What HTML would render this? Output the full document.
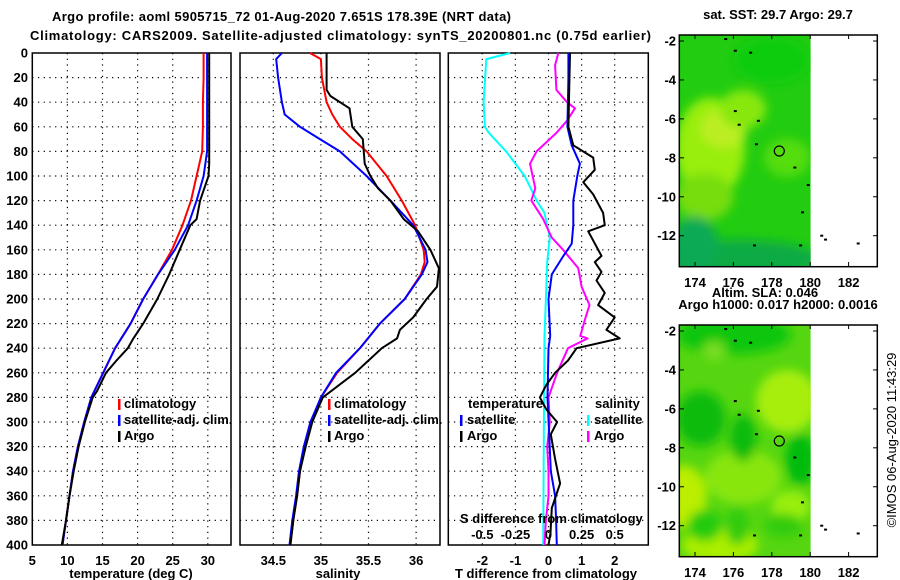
<!DOCTYPE html>
<html><head><meta charset="utf-8">
<style>
html,body{margin:0;padding:0;background:#fff;}
svg{display:block;font-family:"Liberation Sans",Arial,sans-serif;}
.b{font-weight:bold;font-size:13px;}
</style></head>
<body>
<svg id="chart" width="900" height="580" viewBox="0 0 900 580">
<text class="b" x="52" y="21" textLength="459">Argo profile: aoml 5905715_72 01-Aug-2020 7.651S 178.39E (NRT data)</text>
<text class="b" x="30" y="40" textLength="621">Climatology: CARS2009. Satellite-adjusted climatology: synTS_20200801.nc (0.75d earlier)</text>
<g id="panels"></g>
<g id="maps"></g>
<text x="896" y="440" font-size="13" text-anchor="middle" transform="rotate(-90 896 440)">©IMOS 06-Aug-2020 11:43:29</text>
</svg>
<script>
// ---- data (depth in dbar) ----
const tDepth = [0,20,40,60,80,100,120,140,160,180,200,220,240,260,280,300,320,340,360,380,400];
const tClim  = [29.4,29.4,29.3,29.3,29.2,28.4,27.6,26.4,24.9,22.9,20.8,19.0,16.8,15.1,13.4,12.4,11.5,10.8,10.3,9.8,9.3];
const tSat   = [29.9,29.9,29.9,29.9,29.9,29.4,28.4,27.2,25.3,22.9,20.8,19.0,16.8,15.1,13.4,12.4,11.5,10.8,10.3,9.8,9.3];
const argoTDepth = [0,30,60,90,100,110,120,135,140,160,180,200,220,232,240,250,260,275,280,300,320,340,360,380,400];
const argoT  = [30.2,30.2,30.2,30.2,30.1,29.5,28.9,28.4,27.5,26.0,24.5,22.8,20.8,19.4,18.6,17.0,15.5,14.2,13.6,12.5,11.6,10.9,10.3,9.8,9.2];

const sDepth = [0,5,20,40,50,60,70,80,100,120,140,160,170,180,200,220,240,260,280,300,320,340,360,380,400];
const sClim  = [34.885,35.0,35.01,35.06,35.12,35.2,35.33,35.48,35.69,35.85,35.99,36.08,36.09,36.05,35.88,35.62,35.41,35.17,35.0,34.9,34.83,34.78,34.75,34.71,34.68];
const sSat   = [34.59,34.53,34.55,34.59,34.62,34.78,34.99,35.2,35.48,35.73,35.97,36.1,36.12,36.06,35.88,35.62,35.41,35.16,35.0,34.89,34.82,34.77,34.74,34.70,34.67];
const argoSDepth = [0,30,35,45,60,70,90,100,110,120,135,145,160,175,190,200,215,225,232,240,250,260,280,300,320,340,360,380,400];
const argoS  = [35.06,35.06,35.1,35.3,35.33,35.44,35.46,35.52,35.6,35.73,35.87,36.02,36.15,36.24,36.22,36.11,35.97,35.83,35.8,35.64,35.5,35.36,35.02,34.91,34.84,34.78,34.75,34.71,34.68];

const dTSatDepth = [0,20,60,75,90,100,120,140,155,165,180,200,230,240,280,340,360,380,400];
const dTSat  = [0.6,0.6,0.57,0.7,0.95,0.87,0.75,0.75,0.7,0.45,0.1,0.0,0.05,0.0,-0.03,0.07,0.2,0.23,0.25];
const dTArgoDepth = [0,60,75,85,95,105,115,130,140,145,165,170,178,185,195,205,215,225,232,240,250,260,270,280,290,300,310,330,350,370,390,400];
const dTArgo = [0.65,0.6,0.75,1.35,1.4,1.05,1.35,1.65,1.7,1.2,1.6,1.4,1.6,1.45,1.7,1.5,2.0,1.75,2.15,0.85,0.59,0.2,-0.07,-0.26,-0.06,0.26,0.07,0.2,0.35,0.1,0.06,0.0];
const dSSatDepth = [0,5,40,60,65,80,100,120,130,150,170,200,230,300,400];
const dSSat  = [-0.29,-0.47,-0.49,-0.48,-0.45,-0.32,-0.18,-0.09,-0.03,0.01,-0.01,-0.02,-0.03,-0.035,-0.04];
const dSArgoDepth = [0,10,30,40,45,55,65,80,90,110,120,135,150,160,175,190,205,215,230,232,240,260,280,300,320,340,360,380,400];
const dSArgo = [0.074,0.05,0.06,0.14,0.2,0.14,0.06,-0.09,-0.14,-0.1,-0.13,-0.04,0.024,0.11,0.225,0.25,0.31,0.28,0.24,0.295,0.147,0.065,0.0,0.01,-0.01,0.0,0.0,-0.02,-0.03];

const depthTicks = [0,20,40,60,80,100,120,140,160,180,200,220,240,260,280,300,320,340,360,380,400];
const tTicks = [5,10,15,20,25,30];
const sTicks = [34.5,35,35.5,36];
const dTTicks = [-2,-1,0,1,2];
const dSTicks = [-0.5,-0.25,0,0.25,0.5];
const lonTicks = [174,176,178,180,182];
const latTicks = [-2,-4,-6,-8,-10,-12];
const argoPos = [178.39,-7.651];

// ---- axes ----
const NS="http://www.w3.org/2000/svg";
const yD = d => 53 + d*1.23;
const xT = v => 32.3 + (v-5)*7.02;
const xS = v => 273.3 + (v-34.5)*95.2;
const xDT = v => 548.5 + v*33.1;
const xDS = v => 548.5 + v*132.4;
function mk(tag, attrs, parent){const e=document.createElementNS(NS,tag);for(const k in attrs)e.setAttribute(k,attrs[k]);parent.appendChild(e);return e;}
const P=document.getElementById('panels');

function panel(name,x0,x1,ticksX,fx,labelY){
  const g=mk('g',{},P);
  
  
  depthTicks.forEach(d=>{ if(d>0&&d<400) mk('line',{x1:x0,x2:x1,y1:yD(d),y2:yD(d),stroke:'#000','stroke-dasharray':'1.2,4.5','stroke-width':1.2},g);});
  ticksX.forEach(t=>{ const x=fx(t); if(x>x0+2&&x<x1-2) mk('line',{x1:x,x2:x,y1:yD(0),y2:yD(400),stroke:'#000','stroke-dasharray':'1.2,4.5','stroke-width':1.2},g);});
  mk('rect',{x:x0,y:yD(0),width:x1-x0,height:yD(400)-yD(0),fill:'none',stroke:'#000','stroke-width':1.5},g);
  if(labelY) depthTicks.forEach(d=>{const t=mk('text',{x:28,y:yD(d)+4.5,'text-anchor':'end',class:'b','font-size':12},g);t.textContent=d;
    
    });
  ticksX.forEach(v=>{const t=mk('text',{x:fx(v),y:565,'text-anchor':'middle',class:'b','font-size':12},g);t.textContent=v;
    
    });
  return g;
}
function line(g,depths,vals,fx,col,w,name){
  const p=depths.map((d,i)=>(i?'L':'M')+fx(vals[i]).toFixed(1)+' '+yD(d).toFixed(1)).join('');
  const e=mk('path',{d:p,fill:'none',stroke:col,'stroke-width':w,'stroke-linejoin':'round'},g);
  
  
}
function txt(g,x,y,s,name,anchor){const t=mk('text',{x:x,y:y,class:'b','font-size':12,'text-anchor':anchor||'start'},g);t.textContent=s;
  
  return t;}
function bar(g,x,y,col){mk('rect',{x:x,y:y-10,width:2.5,height:11,fill:col},g);}

const g1=panel('temperature-panel',32.3,231,tTicks,xT,true);
line(g1,tDepth,tClim,xT,'#f00',2,'temperature-climatology-line');
line(g1,tDepth,tSat,xT,'#00f',2,'temperature-satellite-line');
line(g1,argoTDepth,argoT,xT,'#000',2,'temperature-argo-line');
bar(g1,118,409,'#f00');txt(g1,124,408,'climatology','legend-climatology');
bar(g1,118,425,'#00f');txt(g1,124,424,'satellite-adj. clim.','legend-satellite');
bar(g1,118,441,'#000');txt(g1,124,440,'Argo','legend-argo');
txt(g1,131,578,'temperature (deg C)','x-axis-title-temperature','middle');

const g2=panel('salinity-panel',240,440,sTicks,xS,false);
line(g2,sDepth,sClim,xS,'#f00',2,'salinity-climatology-line');
line(g2,sDepth,sSat,xS,'#00f',2,'salinity-satellite-line');
line(g2,argoSDepth,argoS,xS,'#000',2,'salinity-argo-line');
bar(g2,328,409,'#f00');txt(g2,334,408,'climatology','legend-climatology');
bar(g2,328,425,'#00f');txt(g2,334,424,'satellite-adj. clim.','legend-satellite');
bar(g2,328,441,'#000');txt(g2,334,440,'Argo','legend-argo');
txt(g2,338,578,'salinity','x-axis-title-salinity','middle');

const g3=panel('difference-panel',448.3,648.3,dTTicks,xDT,false);
line(g3,dSSatDepth,dSSat,xDS,'#0ff',2,'salinity-diff-satellite-line');
line(g3,dSArgoDepth,dSArgo,xDS,'#f0f',2,'salinity-diff-argo-line');
line(g3,dTSatDepth,dTSat,xDT,'#00f',2,'temperature-diff-satellite-line');
line(g3,dTArgoDepth,dTArgo,xDT,'#000',2,'temperature-diff-argo-line');
txt(g3,468,408,'temperature','legend-temperature-heading');
txt(g3,595,408,'salinity','legend-salinity-heading');
bar(g3,460,425,'#00f');txt(g3,467,424,'satellite','legend-temp-satellite');
bar(g3,460,441,'#000');txt(g3,467,440,'Argo','legend-temp-argo');
bar(g3,587,425,'#0ff');txt(g3,594,424,'satellite','legend-sal-satellite');
bar(g3,587,441,'#f0f');txt(g3,594,440,'Argo','legend-sal-argo');
txt(g3,460,523,'S difference from climatology','s-axis-title');
dSTicks.forEach(v=>txt(g3,xDS(v),539,String(v),'s-tick-label','middle'));
txt(g3,546,578,'T difference from climatology','x-axis-title-tdiff','middle');

// ---- maps ----
const M=document.getElementById('maps');
const xL = lon => 695 + (lon-174)*19.2;
function map(name,top,blobs,base,title,sub){
  const g=mk('g',{},M);
  
  
  const yL = lat => top+6 + (-2-lat)*19.47;
  const id=name+'-clip';
  const cp=mk('clipPath',{id:id},g); mk('rect',{x:680,y:top,width:130.7,height:231.7},cp);
  const f=mk('filter',{id:name+'-blur'},g); mk('feGaussianBlur',{stdDeviation:5},f);
  const cg=mk('g',{'clip-path':'url(#'+id+')'},g);
  mk('rect',{x:680,y:top,width:130.7,height:231.7,fill:base},cg);
  const bg=mk('g',{filter:'url(#'+name+'-blur)'},cg);
  blobs.forEach(b=>mk('ellipse',{cx:xL(b[0]),cy:yL(b[1]),rx:b[2]*19.2,ry:b[3]*19.47,fill:b[4]},bg));
  mk('rect',{x:679.3,y:top,width:198,height:231.7,fill:'none',stroke:'#000','stroke-width':1.5},g);
  lonTicks.forEach(v=>{mk('line',{x1:xL(v),x2:xL(v),y1:top,y2:top+4,stroke:'#000'},g);mk('line',{x1:xL(v),x2:xL(v),y1:top+231.7,y2:top+227,stroke:'#000'},g);
    txt(g,xL(v),top+252,String(v),'lon-tick-label','middle');});
  latTicks.forEach(v=>{mk('line',{x1:679.3,x2:684,y1:yL(v),y2:yL(v),stroke:'#000'},g);mk('line',{x1:877.3,x2:873,y1:yL(v),y2:yL(v),stroke:'#000'},g);
    txt(g,676,yL(v)+4.5,String(v),'lat-tick-label','end');});
  const c=mk('circle',{cx:xL(argoPos[0]),cy:yL(argoPos[1]),r:5,fill:'none',stroke:'#000','stroke-width':1.2},g);
  
  
  [[175.6,-1.9],[176.1,-2.5],[176.9,-2.6],[176.1,-5.6],[176.3,-6.3],[177.3,-6.1],[177.2,-7.3],[179.2,-8.5],[179.9,-9.4],[179.6,-10.8],[177.1,-12.5],[179.5,-12.5],[180.6,-12.0],[180.8,-12.2],[182.5,-12.4]].forEach(p=>mk('rect',{x:xL(p[0])-1.5,y:yL(p[1])-1,width:3,height:2,fill:'#000'},g));
  txt(g,778,top-16,title,'map-title','middle');
  return g;
}
map('sst-map',35,[
  [174.8,-7.5,1.8,2.6,'#99ee11'],[175.5,-6.5,1.2,1.0,'#bbee22'],[176.5,-5.5,1.2,1.0,'#88e811'],
  [174.5,-10,1.5,1.2,'#77dd11'],[178.8,-8,1.2,1.0,'#55dd11'],[176,-13.2,4.5,1.0,'#11aa44'],[174,-12.5,1.2,1.5,'#11aa55'],
  [178,-3,2,1.2,'#11cc11']],'#22cc11','sat. SST: 29.7 Argo: 29.7');
map('sla-map',325,[
  [178.8,-5.6,1.6,1.6,'#a8ee11'],[173.4,-10.5,1.2,1.6,'#bbee00'],[175.3,-13,2,0.9,'#aaee00'],[179,-11,1,0.8,'#99ee11'],
  [176.5,-9.5,2,1.4,'#88e611'],[174.3,-6.5,1.3,1.4,'#11bb11'],[176.5,-7.5,0.7,1.2,'#11bb11'],[179.5,-8.6,0.8,1.3,'#00bb11'],
  [176,-2.2,3,1.0,'#11c611'],[174.5,-12,0.9,0.8,'#22cc11'],[176.2,-12,0.6,1,'#33cc11'],[178.6,-12,1,0.6,'#33cc11'],[175,-3,0.6,0.5,'#77dd22']],
  '#55d611','Argo h1000: 0.017 h2000: 0.0016');
txt(M,765,297,'Altim. SLA: 0.046','altim-sla-label','middle');
</script>
</body></html>
